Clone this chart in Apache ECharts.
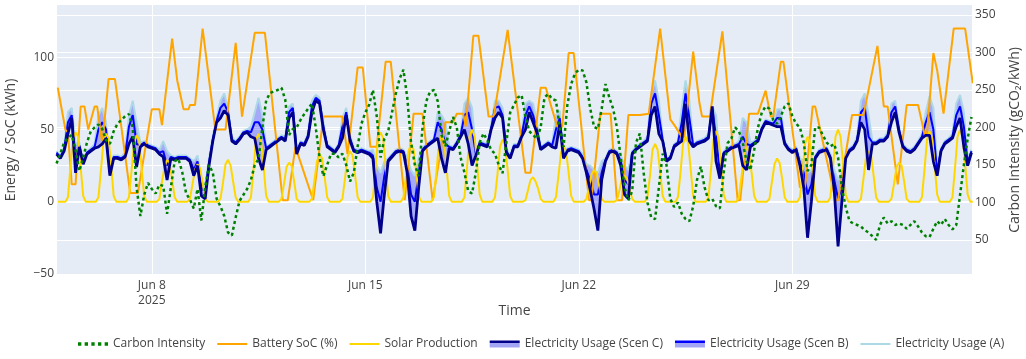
<!DOCTYPE html>
<html><head><meta charset="utf-8">
<script src="https://cdn.jsdelivr.net/npm/echarts@6/dist/echarts.min.js"></script>
<style>html,body{margin:0;padding:0;background:#fff}#c{width:1026px;height:359px}</style>
</head><body><div id="c"></div>
<script>
// All times are hours since 2025-06-04 00:00
const usageStartHour = 21, usageStepHours = 3;
const usageC = [
33,30,35,47,58,20,38,26, 33,35,37,38,40,44,18,30, 30,29,31,40,45,24,38,40,
38,37,36,33,31,15,30,29, 30,30,30,28,18,25,4,2, 25,42,55,58,63,60,42,40,
43,47,48,45,44,30,22,36, 38,40,42,44,42,58,62,33, 40,39,45,62,70,68,50,38,
36,34,38,44,60,42,35,34, 35,34,33,30,0,-22,5,28, 31,34,35,34,20,-10,-20,10,
35,38,40,42,44,30,20,37, 36,40,45,50,40,25,32,40, 39,38,50,58,62,58,34,30,
38,38,45,50,62,55,48,36, 38,40,38,37,54,30,35,36, 35,34,30,20,8,-5,-20,15,
28,34,35,33,25,5,2,33, 36,38,40,42,60,66,47,42, 28,30,38,40,42,68,42,38,
40,41,42,44,66,28,16,33, 35,37,38,39,25,22,38,40, 42,50,55,54,53,52,52,40,
36,34,36,25,10,-25,0,30, 34,35,36,30,8,-31,0,30, 35,37,42,55,50,22,40,40,
42,42,45,55,62,48,38,35, 34,36,40,44,46,46,28,18, 35,40,42,44,52,58,38,25,
34];
const usageB = [
34,31,36,55,60,30,39,27, 34,36,38,50,55,50,20,31, 31,30,32,52,60,40,39,41,
39,38,37,34,35,25,31,30, 31,31,31,29,22,28,10,6, 27,43,56,65,68,62,43,41,
44,48,49,48,55,55,50,37, 39,41,43,45,43,62,65,34, 41,40,46,66,72,70,52,39,
37,35,39,52,62,44,36,35, 36,35,34,32,10,0,18,29, 32,35,36,35,25,5,0,20,
36,39,41,43,55,50,40,38, 37,41,46,60,62,50,33,41, 40,39,51,65,66,60,35,31,
39,39,46,60,66,60,50,37, 39,41,39,50,58,31,36,37, 36,35,31,22,15,5,5,20,
29,35,36,34,28,15,12,34, 37,39,41,43,68,75,60,43, 29,31,39,41,55,75,58,39,
41,42,43,45,64,45,20,34, 36,38,39,40,45,40,39,41, 43,51,56,55,54,58,58,41,
37,35,37,27,20,5,12,31, 35,36,37,31,15,2,10,31, 36,38,43,62,65,45,41,41,
43,43,46,62,66,50,39,36, 35,37,41,45,55,62,50,20, 36,41,43,45,60,66,52,27,
35];
const usageA = [
35,32,38,62,65,40,41,28, 35,37,40,60,65,55,24,32, 32,31,34,60,70,55,41,42,
40,39,38,36,42,35,32,31, 32,32,32,30,28,32,15,10, 30,45,58,70,75,65,45,42,
45,49,50,52,62,72,60,38, 40,42,44,46,45,66,68,36, 42,41,48,70,74,72,55,40,
38,36,40,58,65,46,37,36, 37,36,35,36,25,20,28,30, 33,36,37,36,30,22,18,30,
37,40,42,44,62,60,55,39, 38,42,48,68,72,65,34,42, 41,40,53,70,70,65,37,32,
40,40,48,68,70,68,55,38, 40,42,40,60,63,33,37,38, 37,36,33,26,25,22,20,28,
30,36,37,35,32,25,22,35, 38,40,42,45,75,84,70,44, 30,32,40,42,65,84,70,40,
42,43,44,47,66,60,25,35, 37,39,40,42,58,55,41,42, 44,52,57,56,56,64,64,42,
38,36,38,30,28,20,22,32, 36,37,38,33,22,15,20,32, 37,39,45,70,75,60,42,42,
44,44,48,68,70,52,40,37, 36,38,42,47,62,73,65,25, 37,42,44,47,68,74,62,30,
36];
const carbonIntensity = [
152,165,180,186,190,170,142,160, 180,195,200,204,198,183,178,195, 205,210,215,218,200,120,82,110,
126,118,112,124,122,85,120,155, 158,140,112,104,92,118,76,120, 150,140,105,95,82,60,56,80,
102,110,118,130,150,158,200,236, 246,248,250,253,237,190,198,200, 210,218,225,232,200,160,135,150,
165,165,160,165,150,128,140,175, 205,220,230,250,215,160,185,195, 220,245,265,277,240,180,150,135,
200,235,248,250,235,190,175,195, 214,200,160,140,115,112,140,180, 192,183,170,165,150,139,180,220,
230,240,243,215,195,190,185,200, 240,245,238,236,200,174,230,258, 272,277,276,260,225,201,198,225,
258,240,225,200,160,120,103,115, 180,192,140,100,80,78,120,165, 150,105,94,100,85,78,75,95,
130,148,120,103,105,95,92,140, 179,185,200,195,180,155,143,170, 200,220,228,225,210,205,215,228,
232,215,205,200,180,142,150,200, 200,190,180,175,178,160,120,94, 75,72,70,68,63,60,55,50,
70,80,72,75,70,72,70,65, 70,75,68,60,55,54,65,75, 70,78,70,64,70,110,150,185,
214];
// [hour, SoC]
const batterySoC = [
[22,79],[28,50],[30,48],[33,12],[36,12],[40,66],[43,66],[46,50],[47,50],[51,66],[53,66],[57,40],[62,85],[67,85],
[79,6],[85,6],[96,64],[102,64],[104,53],[112,113],[116,84],[121,64],[125,64],[126,67],[130,67],[136,120],[146,50],
[154,50],[162,110],[167,59],[177,117],[185,117],[199,1],[203,1],[209,38],[223,1],[231,59],[246,59],[250,33],[258,93],
[262,93],[268,38],[273,38],[280,97],[284,97],[295,1],[302,61],[309,61],[317,1],[327,55],[333,55],[336,61],[341,61],
[343,52],[349,115],[353,115],[361,59],[365,59],[376,119],[390,20],[394,20],[402,79],[406,79],[415,52],[419,52],
[424,103],[428,103],[440,1],[442,1],[449,61],[457,61],[462,1],[466,1],[471,60],[480,60],[481,61],[487,61],[496,120],
[504,57],[508,52],[513,45],[515,45],[522,104],[527,68],[529,59],[535,59],[545,118],[557,1],[559,1],[566,61],[573,61],
[579,77],[583,59],[585,59],[591,97],[593,97],[606,10],[610,10],[616,66],[618,66],[634,1],[636,1],[647,60],[656,60],
[667,108],[672,66],[675,66],[683,12],[690,67],[699,67],[704,47],[706,47],[711,103],[714,91],[719,61],[727,120],
[736,120],[742,82]];
const solarStartHour = 22, solarStepHours = 2;
const solarProduction = [0,
0,0,0,3,24,44,48,45,24,4,0,0, 0,0,0,3,22,42,47,44,25,4,0,0, 0,0,0,3,21,40,46,43,23,4,0,0,
0,0,0,2,14,24,29,27,15,3,0,0, 0,0,0,2,12,22,26,23,13,2,0,0, 0,0,0,2,13,26,29,25,14,3,0,0,
0,0,0,3,22,43,47,42,24,4,0,0, 0,0,0,2,12,24,27,25,14,2,0,0, 0,0,0,2,15,28,33,30,17,3,0,0,
0,0,0,2,16,31,35,32,18,3,0,0, 0,0,0,3,23,44,48,44,25,4,0,0, 0,0,0,3,18,35,40,36,21,4,0,0,
0,0,0,3,21,41,46,42,23,4,0,0, 0,0,0,3,23,45,50,45,26,5,0,0, 0,0,0,3,19,38,43,39,22,4,0,0,
0,0,0,1,8,15,17,14,9,2,0,0, 0,0,0,3,18,34,39,35,20,4,0,0, 0,0,0,2,10,19,22,20,11,2,0,0,
0,0,0,1,8,16,18,16,9,2,0,0, 0,0,0,3,18,36,40,36,21,4,0,0, 0,0,0,3,20,40,45,41,23,4,0,0,
0,0,0,3,22,43,49,44,25,5,0,0, 0,0,0,3,17,33,38,34,20,4,0,0, 0,0,0,2,14,26,30,27,16,3,0,0,
0,0,0,3,20,40,45,41,23,4,0,0, 0,0,0,3,23,45,50,45,26,5,0,0, 0,0,0,2,16,31,35,32,18,3,0,0,
0,0,0,2,12,24,27,25,14,2,0,0, 0,0,0,3,22,43,49,44,25,5,0,0, 0,0,0,3,23,45,50,45,26,5,0,0];
const xTickHours = [96, 264, 432, 600];
const xTickLabels = ['Jun 8\n2025', 'Jun 15', 'Jun 22', 'Jun 29'];
const yLeftTicks = [-50, 0, 50, 100];
const yRightTicks = [50, 100, 150, 200, 250, 300, 350];

const onGrid = (start, step, vals) => vals.map((v, i) => [start + i * step, v]);
const usageHours = usageC.map((v, i) => usageStartHour + i * usageStepHours);

const FONT = 'Open Sans';
const TXT = '#444';
const LAV = 'rgba(0,0,255,0.28)';
const base = {type: 'line', symbol: 'none', showSymbol: false, silent: true, animation: false};

// band between two usage arrays, drawn through the axes' own coord()
function bandSeries(upper, lower) {
  return {
    type: 'custom', silent: true, animation: false, clip: true, z: 1,
    data: [[usageHours[0], upper[0]]],
    renderItem: (params, api) => {
      const pts = [];
      for (let i = 0; i < upper.length; i++) pts.push(api.coord([usageHours[i], upper[i]]));
      for (let i = lower.length - 1; i >= 0; i--) pts.push(api.coord([usageHours[i], lower[i]]));
      return {type: 'polygon', shape: {points: pts}, style: {fill: LAV, stroke: null}};
    }
  };
}

const chart = echarts.init(document.getElementById('c'));
chart.setOption({
  animation: false,
  backgroundColor: '#fff',
  textStyle: {fontFamily: FONT},
  grid: {left: 57, right: 54, top: 5, bottom: 84, containLabel: false, outerBoundsMode: 'none',
         show: true, backgroundColor: '#E5ECF6', borderWidth: 0},
  xAxis: [{
    type: 'value', min: 21.4, max: 741.4,
    axisLine: {show: false},
    axisTick: {show: false, customValues: xTickHours},
    axisLabel: {customValues: xTickHours, color: TXT, fontSize: 12, fontFamily: FONT, margin: 3, lineHeight: 15,
      formatter: v => { const i = xTickHours.indexOf(v); return i >= 0 ? xTickLabels[i] : ''; }},
    splitLine: {show: true, lineStyle: {color: '#fff', width: 1}},
    name: 'Time', nameLocation: 'middle', nameGap: 29, nameMoveOverlap: false,
    nameTextStyle: {color: TXT, fontSize: 14, fontFamily: FONT}
  }, {
    type: 'value', min: 21.4, max: 741.4, position: 'bottom',
    axisLine: {show: true, onZero: true, onZeroAxisIndex: 0, lineStyle: {color: '#fff', width: 2}},
    axisTick: {show: false}, axisLabel: {show: false}, splitLine: {show: false}
  }],
  yAxis: [{
    type: 'value', min: -50.8, max: 136.3, position: 'left',
    axisLine: {show: false}, axisTick: {show: false, customValues: yLeftTicks},
    axisLabel: {customValues: yLeftTicks, color: TXT, fontSize: 12, fontFamily: FONT, margin: 3,
      formatter: v => v < 0 ? '\u2212' + Math.abs(v) : String(v)},
    splitLine: {show: true, lineStyle: {color: '#fff', width: 1}},
    name: 'Energy / SoC (kWh)', nameLocation: 'middle', nameGap: 39, nameMoveOverlap: false,
    nameTextStyle: {color: TXT, fontSize: 14, fontFamily: FONT}
  }, {
    type: 'value', min: 3.3, max: 363.3, position: 'right',
    axisLine: {show: false}, axisTick: {show: false, customValues: yRightTicks},
    axisLabel: {customValues: yRightTicks, color: TXT, fontSize: 12, fontFamily: FONT, margin: 3},
    splitLine: {show: true, lineStyle: {color: '#fff', width: 1}},
    name: 'Carbon Intensity (gCO\u2082/kWh)', nameLocation: 'middle', nameGap: 36, nameMoveOverlap: false,
    nameTextStyle: {color: TXT, fontSize: 14, fontFamily: FONT}
  }],
  legend: {
    show: true, orient: 'horizontal', left: 78, top: 338, padding: 0,
    itemWidth: 30, itemHeight: 14, itemGap: 12, selectedMode: false,
    textStyle: {color: TXT, fontSize: 12, fontFamily: FONT},
    data: [
      {name: 'Carbon Intensity', icon: 'path://M0,0h3v3h-3z M6,0h3v3h-3z M12,0h3v3h-3z M18,0h3v3h-3z M24,0h3v3h-3z', itemStyle: {color: 'green'}},
      {name: 'Battery SoC (%)', icon: 'path://M0,0h30v2h-30z', itemStyle: {color: 'orange'}},
      {name: 'Solar Production', icon: 'path://M0,0h30v2h-30z', itemStyle: {color: 'gold'}},
      {name: 'Electricity Usage (Scen C)', icon: 'path://M0,0h30v7h-30z', itemStyle: {color: {type: 'linear', x: 0, y: 0, x2: 0, y2: 1,
        colorStops: [{offset: 0, color: '#00008b'}, {offset: 0.38, color: '#00008b'}, {offset: 0.38, color: '#a3a6f5'}, {offset: 1, color: '#a3a6f5'}]}}},
      {name: 'Electricity Usage (Scen B)', icon: 'path://M0,0h30v7h-30z', itemStyle: {color: {type: 'linear', x: 0, y: 0, x2: 0, y2: 1,
        colorStops: [{offset: 0, color: '#0000ff'}, {offset: 0.38, color: '#0000ff'}, {offset: 0.38, color: '#a3a6f5'}, {offset: 1, color: '#a3a6f5'}]}}},
      {name: 'Electricity Usage (A)', icon: 'path://M0,0h30v2h-30z', itemStyle: {color: '#add8e6'}}
    ]
  },
  series: [
    bandSeries(usageA, usageB),
    bandSeries(usageB, usageC),
    {...base, name: 'Electricity Usage (A)', data: onGrid(usageStartHour, usageStepHours, usageA), color: '#add8e6', lineStyle: {color: '#add8e6', width: 2}},
    {...base, name: 'Electricity Usage (Scen B)', data: onGrid(usageStartHour, usageStepHours, usageB), color: '#0000ff', lineStyle: {color: '#0000ff', width: 2}},
    {...base, name: 'Battery SoC (%)', data: batterySoC, color: 'orange', lineStyle: {color: 'orange', width: 2}},
    {...base, name: 'Solar Production', data: onGrid(solarStartHour, solarStepHours, solarProduction), color: 'gold', lineStyle: {color: 'gold', width: 2}},
    {...base, name: 'Electricity Usage (Scen C)', data: onGrid(usageStartHour, usageStepHours, usageC), color: '#00008b', lineStyle: {color: '#00008b', width: 2.8}},
    {...base, name: 'Carbon Intensity', yAxisIndex: 1, data: onGrid(usageStartHour, usageStepHours, carbonIntensity), color: 'green', lineStyle: {color: 'green', width: 2.5, type: [3, 3]}}
  ]
});
</script></body></html>
